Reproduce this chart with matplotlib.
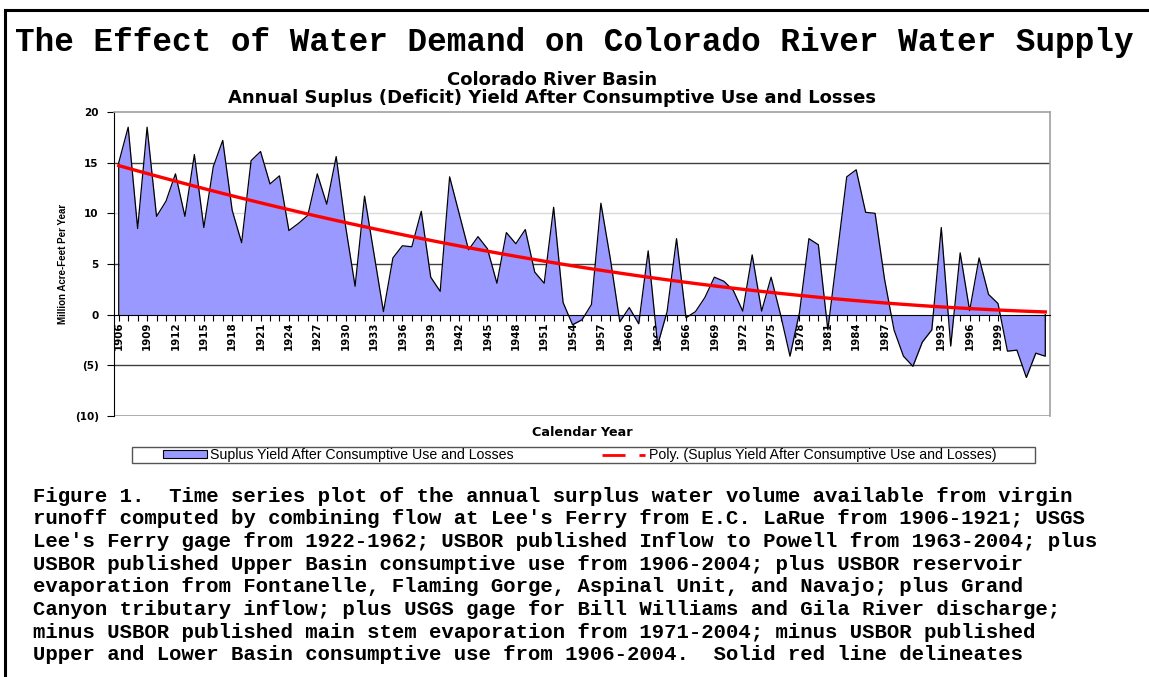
import numpy as np
import matplotlib
matplotlib.use("Agg")
from matplotlib import pyplot as plt
from matplotlib.patches import Patch, Rectangle
from matplotlib.lines import Line2D
from matplotlib.ticker import FuncFormatter, MultipleLocator

# annual surplus (deficit) yield, million acre-feet, 1906-2004
years = np.arange(1906, 2005)
surplus = [
    15.0, 18.5, 8.5, 18.5, 9.7, 11.2, 13.9, 9.7, 15.8, 8.6,      # 1906-1915
    14.6, 17.2, 10.3, 7.1, 15.2, 16.1, 12.9, 13.7, 8.3, 9.0,     # 1916-1925
    9.8, 13.9, 10.9, 15.6, 8.7, 2.8, 11.7, 6.0, 0.3, 5.6,        # 1926-1935
    6.8, 6.7, 10.2, 3.7, 2.3, 13.6, 10.0, 6.4, 7.7, 6.5,         # 1936-1945
    3.1, 8.1, 7.0, 8.4, 4.2, 3.1, 10.6, 1.2, -1.0, -0.5,         # 1946-1955
    1.0, 11.0, 5.5, -0.7, 0.7, -0.9, 6.3, -3.0, 0.3, 7.5,        # 1956-1965
    -0.3, 0.3, 1.7, 3.7, 3.3, 2.4, 0.35, 5.9, 0.35, 3.7,         # 1966-1975
    0.0, -4.1, 0.2, 7.5, 6.9, -1.5, 6.0, 13.6, 14.3, 10.1,       # 1976-1985
    10.0, 3.5, -1.5, -4.1, -5.1, -2.7, -1.5, 8.6, -3.1, 6.1,     # 1986-1995
    0.4, 5.6, 2.0, 1.1, -3.6, -3.5, -6.2, -3.8, -4.1,            # 1996-2004
]
surplus = np.array(surplus)

title = "The Effect of Water Demand on Colorado River Water Supply"
subtitle = "Colorado River Basin\nAnnual Suplus (Deficit) Yield After Consumptive Use and Losses"
series_name = "Suplus Yield After Consumptive Use and Losses"
trend_name = "Poly. (Suplus Yield After Consumptive Use and Losses)"
caption = [
    "Figure 1.  Time series plot of the annual surplus water volume available from virgin",
    "runoff computed by combining flow at Lee's Ferry from E.C. LaRue from 1906-1921; USGS",
    "Lee's Ferry gage from 1922-1962; USBOR published Inflow to Powell from 1963-2004; plus",
    "USBOR published Upper Basin consumptive use from 1906-2004; plus USBOR reservoir",
    "evaporation from Fontanelle, Flaming Gorge, Aspinal Unit, and Navajo; plus Grand",
    "Canyon tributary inflow; plus USGS gage for Bill Williams and Gila River discharge;",
    "minus USBOR published main stem evaporation from 1971-2004; minus USBOR published",
    "Upper and Lower Basin consumptive use from 1906-2004.  Solid red line delineates",
]

W, H = 1149, 677
fig = plt.figure(figsize=(W / 100, H / 100), dpi=100)
fig.patch.set_facecolor("white")

def fx(px):
    return px / W

def fy(py):
    return 1 - py / H

# outer frame (top and left edges visible)
fig.add_artist(Line2D([fx(5), 1.0], [fy(10), fy(10)], color="black", lw=2.2))
fig.add_artist(Line2D([fx(5), fx(5)], [fy(10), 0.0], color="black", lw=2.2))

fig.text(0.5, fy(43), title, ha="center", va="center", fontsize=23.5,
         family="Liberation Mono", weight="bold")
fig.text(fx(552), fy(89), subtitle, ha="center", va="center", fontsize=13.0,
         family="DejaVu Sans", weight="bold", linespacing=0.98)

ax = fig.add_axes([fx(114), fy(416), fx(1050 - 114), (416 - 112) / H])

ax.fill_between(years, surplus, 0, color="#9999FF", lw=0, zorder=2)
ax.plot(np.r_[years[0], years, years[-1]], np.r_[0, surplus, 0],
        color="black", lw=0.9, zorder=3)

# second order polynomial trend (Excel style, x = 1..n)
idx = np.arange(1, len(years) + 1)
coef = np.polyfit(idx, surplus, 2)
ax.plot(years, np.polyval(coef, idx), color="red", lw=2.4, zorder=4)

ax.set_xlim(1905.5, 2004.5)
ax.set_ylim(-10, 20)
ax.set_yticks([-10, -5, 0, 5, 10, 15, 20])
ax.yaxis.set_major_formatter(FuncFormatter(
    lambda v, p: f"({abs(int(v))})" if v < 0 else f"{int(v)}"))
for v in [-5, 5, 15]:
    ax.axhline(v, color="#404040", lw=1.0, zorder=1)
ax.axhline(10, color="#d9d9d9", lw=1.0, zorder=1)
ax.axhline(-10, color="#a0a0a0", lw=1.2, zorder=1)

ax.spines["bottom"].set_position(("data", 0))
ax.spines["bottom"].set_zorder(5)
ax.spines["left"].set_color("black")
for s in ["top", "right"]:
    ax.spines[s].set_color("#a0a0a0")
    ax.spines[s].set_linewidth(1.2)

ax.xaxis.set_major_locator(MultipleLocator(3, offset=1906 % 3))
ax.xaxis.set_minor_locator(MultipleLocator(1))
ax.tick_params(axis="x", which="both", direction="out", length=4, width=0.8,
               labelsize=7.4, pad=1, labelrotation=90)
ax.tick_params(axis="y", direction="out", length=5, width=0.8, labelsize=7.5, pad=6)
for lab in ax.get_xticklabels():
    lab.set_fontweight("bold")
    lab.set_fontfamily("DejaVu Sans")
for lab in ax.get_yticklabels():
    lab.set_fontweight("bold")

fig.text(fx(63), fy(264), "Million Acre-Feet Per Year", rotation=90, ha="center",
         va="center", fontsize=7, weight="bold", family="Liberation Sans")
fig.text(fx(582), fy(432), "Calendar Year", ha="center", va="center", fontsize=9.2,
         weight="bold", family="DejaVu Sans")

# legend box
fig.add_artist(Rectangle((fx(132), fy(463)), fx(1035 - 132), 16 / H, fill=False,
                         edgecolor="#555555", lw=1.0, transform=fig.transFigure))
handles = [Patch(facecolor="#9999FF", edgecolor="black", lw=0.8),
           Line2D([0], [0], color="red", lw=2, linestyle=(0, (8.3, 5, 2.2, 20)))]
fig.legend(handles, [series_name, trend_name], loc="center left",
           bbox_to_anchor=(fx(163), fy(455)), ncol=2, frameon=False,
           prop={"family": "Liberation Sans", "size": 10.2},
           handlelength=3.1, handleheight=0.4, handletextpad=0.25,
           columnspacing=6.2, borderpad=0, borderaxespad=0)

for i, line in enumerate(caption):
    fig.text(fx(33), fy(496 + i * 22.7), line, ha="left", va="center",
             fontsize=14.9, family="Liberation Mono", weight="bold")

fig.savefig("out.png", dpi=100)
